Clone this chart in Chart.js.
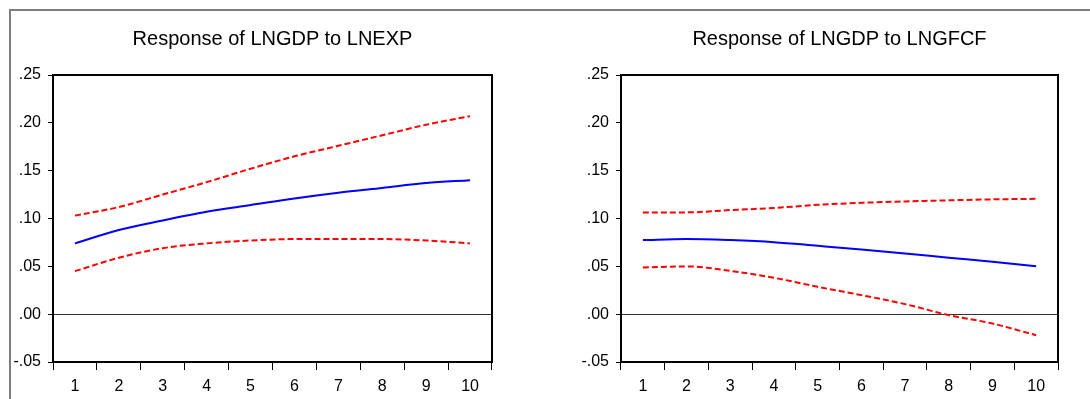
<!DOCTYPE html>
<html>
<head>
<meta charset="utf-8">
<script src="https://cdn.jsdelivr.net/npm/chart.js@4/dist/chart.umd.min.js"></script>
<style>
body { margin: 0; background: #fff; width: 1090px; height: 399px; overflow: hidden; position: relative; }
#frame { position: absolute; left: 9px; top: 9px; width: 1100px; height: 420px; border: 2px solid #7f7f7f; }
.box { position: absolute; top: 0; width: 545px; height: 399px; }
.title { position: absolute; top: 26px; width: 400px; margin-left: -200px; text-align: center;
  font: 20px "Liberation Sans", Arial, sans-serif; line-height: 24px; color: #000; white-space: nowrap; }
</style>
</head>
<body>
<div id="frame"></div>
<div class="box" style="left:0"><canvas id="c1" width="545" height="399"></canvas></div>
<div class="box" style="left:545px"><canvas id="c2" width="545" height="399"></canvas></div>
<div class="title" id="t1" style="left:272.5px"></div>
<div class="title" id="t2" style="left:839.5px"></div>
<script>
// periods after the shock
const periods = ['1', '2', '3', '4', '5', '6', '7', '8', '9', '10'];
const yTicks = [-0.05, 0.00, 0.05, 0.10, 0.15, 0.20, 0.25];
const titles = ['Response of LNGDP to LNEXP', 'Response of LNGDP to LNGFCF'];

// Response of LNGDP to LNEXP
const expResp  = [0.074, 0.088, 0.098, 0.107, 0.114, 0.121, 0.127, 0.132, 0.137, 0.140];
const expUpper = [0.103, 0.112, 0.125, 0.138, 0.152, 0.165, 0.176, 0.187, 0.198, 0.207];
const expLower = [0.045, 0.059, 0.069, 0.074, 0.077, 0.0785, 0.0785, 0.0785, 0.077, 0.074];

// Response of LNGDP to LNGFCF
const gfcfResp  = [0.0774, 0.0785, 0.0774, 0.0753, 0.0715, 0.0676, 0.0634, 0.059, 0.0547, 0.050];
const gfcfUpper = [0.1064, 0.1064, 0.1088, 0.111, 0.1143, 0.1164, 0.1178, 0.119, 0.120, 0.1206];
const gfcfLower = [0.0488, 0.0499, 0.0453, 0.038, 0.0286, 0.0199, 0.0105, -0.001, -0.0098, -0.022];

const fontFam = '"Liberation Sans", Arial, sans-serif';

document.getElementById('t1').textContent = titles[0];
document.getElementById('t2').textContent = titles[1];

// box round the plot area
const frameBox = {
  id: 'frameBox',
  afterDraw(chart) {
    const a = chart.chartArea;
    const ctx = chart.ctx;
    ctx.save();
    ctx.strokeStyle = '#000';
    ctx.lineWidth = 2;
    ctx.strokeRect(a.left, a.top, a.right - a.left, a.bottom - a.top);
    ctx.restore();
  }
};

function fmt(v) {
  return v.toFixed(2).replace('0.', '.');
}

function makeChart(id, resp, upper, lower, axisW, padRight) {
  const band = {
    borderColor: '#ff0000',
    borderWidth: 2,
    borderDash: [6, 3],
    pointRadius: 0,
    cubicInterpolationMode: 'monotone',
    fill: false
  };
  return new Chart(document.getElementById(id), {
    type: 'line',
    data: {
      labels: periods,
      datasets: [
        { data: resp, borderColor: '#0000ff', borderWidth: 2, pointRadius: 0, cubicInterpolationMode: 'monotone', fill: false },
        Object.assign({ data: upper }, band),
        Object.assign({ data: lower }, band)
      ]
    },
    options: {
      responsive: false,
      animation: false,
      devicePixelRatio: 1,
      layout: { padding: { left: 0, right: padRight, top: 75, bottom: 0 } },
      plugins: {
        legend: { display: false },
        tooltip: { enabled: false },
        title: { display: false }
      },
      scales: {
        x: {
          type: 'category',
          offset: true,
          border: { display: false },
          grid: { offset: true, drawOnChartArea: false, tickLength: 8, tickColor: '#000', lineWidth: 1 },
          ticks: { color: '#000', padding: 7, maxRotation: 0, font: { family: fontFam, size: 16 } },
          afterFit(scale) { scale.height = 37; }
        },
        y: {
          min: -0.05,
          max: 0.25,
          border: { display: false },
          afterBuildTicks(scale) { scale.ticks = yTicks.map(v => ({ value: v })); },
          afterFit(scale) { scale.width = axisW; },
          grid: {
            tickLength: 5,
            tickColor: '#000',
            lineWidth: 1,
            color: ctx => (ctx.tick && Math.abs(ctx.tick.value) < 1e-9) ? '#333' : 'rgba(0,0,0,0)'
          },
          ticks: { color: '#000', padding: 7, font: { family: fontFam, size: 16 }, callback: v => fmt(v) }
        }
      }
    },
    plugins: [frameBox]
  });
}

makeChart('c1', expResp, expUpper, expLower, 53, 53);
makeChart('c2', gfcfResp, gfcfUpper, gfcfLower, 76, 32);
</script>
</body>
</html>
